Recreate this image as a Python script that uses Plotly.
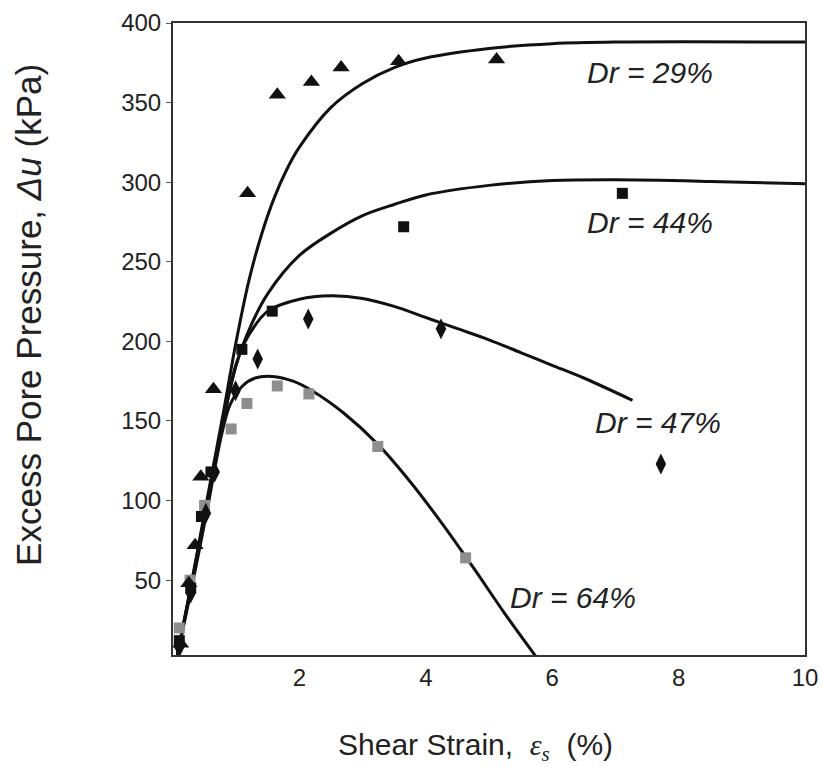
import plotly.graph_objects as go

# ---- data ----
# measured points
tri_x = [0.12, 0.25, 0.35, 0.44, 0.64, 1.18, 1.65, 2.19, 2.66, 3.57, 5.12]
tri_y = [10, 48, 72, 115, 170, 293, 355, 363, 372, 376, 377]

sq_x = [0.10, 0.28, 0.45, 0.60, 1.09, 1.57, 3.65, 7.11]
sq_y = [12, 45, 90, 118, 195, 219, 272, 293]

dia_x = [0.10, 0.28, 0.52, 0.66, 0.99, 1.34, 2.14, 4.24, 7.72]
dia_y = [8, 42, 92, 118, 169, 189, 214, 208, 123]

gsq_x = [0.10, 0.27, 0.50, 0.92, 1.17, 1.65, 2.15, 3.24, 4.63]
gsq_y = [20, 50, 97, 145, 161, 172, 167, 134, 64]

# fitted curves
c29_x = [0.07, 0.30, 0.55, 0.80, 1.00, 1.20, 1.40, 1.60, 1.80, 2.00, 2.50, 3.00, 3.50, 4.00, 5.00, 6.00, 7.00, 10.0]
c29_y = [3, 50, 103, 156, 200, 238, 267, 290, 308, 322, 347, 362, 372, 378, 384, 387, 388, 388]

c44_x = [0.07, 0.30, 0.55, 0.80, 1.00, 1.20, 1.50, 2.00, 2.50, 3.00, 3.50, 4.00, 5.00, 6.00, 7.00, 8.50, 10.0]
c44_y = [3, 49, 101, 152, 185, 207, 230, 254, 268, 279, 286, 292, 298, 301, 301.5, 300.5, 299]

c47_x = [0.07, 0.30, 0.55, 0.80, 1.00, 1.20, 1.50, 2.00, 2.50, 3.00, 3.50, 4.00, 4.50, 5.00, 5.50, 6.00, 6.50, 7.27]
c47_y = [3, 48, 100, 150, 186, 204, 219, 226.5, 228.6, 227, 222, 215, 208, 201, 193, 185, 177, 163]

c64_x = [0.07, 0.30, 0.55, 0.75, 0.90, 1.10, 1.30, 1.57, 1.90, 2.20, 2.70, 3.25, 3.75, 4.25, 4.75, 5.25, 5.78]
c64_y = [3, 46, 96, 138, 160, 172, 177, 178, 175, 169, 155, 135, 112, 86, 58, 29, 0]

labels = ["Dr = 29%", "Dr = 44%", "Dr = 47%", "Dr = 64%"]
label_x = [7.54, 7.54, 7.67, 6.33]
label_y = [369, 274.5, 149, 39]

x_ticks = [2, 4, 6, 8, 10]
y_ticks = [50, 100, 150, 200, 250, 300, 350, 400]

FONT = "Liberation Sans, Arial, sans-serif"
TXT = "#222222"

fig = go.Figure()

for cx, cy in [(c29_x, c29_y), (c44_x, c44_y), (c47_x, c47_y), (c64_x, c64_y)]:
    fig.add_trace(go.Scatter(x=cx, y=cy, mode="lines",
                             line=dict(color="#111111", width=3, shape="spline", smoothing=0.9),
                             showlegend=False, hoverinfo="skip"))

fig.add_trace(go.Scatter(x=gsq_x, y=gsq_y, mode="markers",
                         marker=dict(symbol="square", size=11, color="#8e8e8e"), showlegend=False))
fig.add_trace(go.Scatter(x=dia_x, y=dia_y, mode="markers",
                         marker=dict(symbol="diamond-tall", size=15, color="#111111"), showlegend=False))
fig.add_trace(go.Scatter(x=sq_x, y=sq_y, mode="markers",
                         marker=dict(symbol="square", size=11, color="#111111"), showlegend=False))
fig.add_trace(go.Scatter(x=tri_x, y=tri_y, mode="markers",
                         marker=dict(symbol="triangle-up", size=15, color="#111111"), showlegend=False))

for t, lx, ly in zip(labels, label_x, label_y):
    fig.add_annotation(x=lx, y=ly, xref="x", yref="y", text="<i>" + t + "</i>", showarrow=False,
                       font=dict(family=FONT, size=30, color=TXT), xanchor="center", yanchor="middle")

# axis titles placed as annotations
fig.add_annotation(x=-0.228, y=0.538, xref="paper", yref="paper", textangle=-90,
                   text="Excess Pore Pressure, <i>Δu</i> (kPa)", showarrow=False,
                   font=dict(family=FONT, size=35, color=TXT), xanchor="center", yanchor="middle")
fig.add_annotation(x=0.479, y=-0.146, xref="paper", yref="paper",
                   text="Shear Strain,  <i><span style='font-family:Liberation Serif, Times New Roman, serif'>ε<sub>s</sub></span></i>  (%)",
                   showarrow=False,
                   font=dict(family=FONT, size=30, color=TXT), xanchor="center", yanchor="middle")

fig.update_layout(
    width=822, height=767,
    margin=dict(l=173, r=17, t=23, b=112, autoexpand=False),
    paper_bgcolor="white", plot_bgcolor="white",
    font=dict(family=FONT, color=TXT),
)
fig.update_xaxes(range=[0, 10], tickvals=x_ticks, ticktext=[str(v) for v in x_ticks],
                 showgrid=False, zeroline=False, showline=True, linecolor="#333333", linewidth=2, mirror=True,
                 ticks="", automargin=False, tickfont=dict(size=24, family=FONT, color=TXT))
fig.update_yaxes(range=[3, 400], tickvals=y_ticks, ticktext=[str(v) for v in y_ticks],
                 showgrid=False, zeroline=False, showline=True, linecolor="#333333", linewidth=2, mirror=True,
                 ticks="outside", ticklen=5, tickcolor="#555555", automargin=False,
                 tickfont=dict(size=24, family=FONT, color=TXT))

# remove the page's default body margin so the 822x767 figure fills the window exactly
fig.write_html("out.html", config={"displayModeBar": False},
               post_script="document.body.style.margin='0';document.body.style.overflow='hidden';")
